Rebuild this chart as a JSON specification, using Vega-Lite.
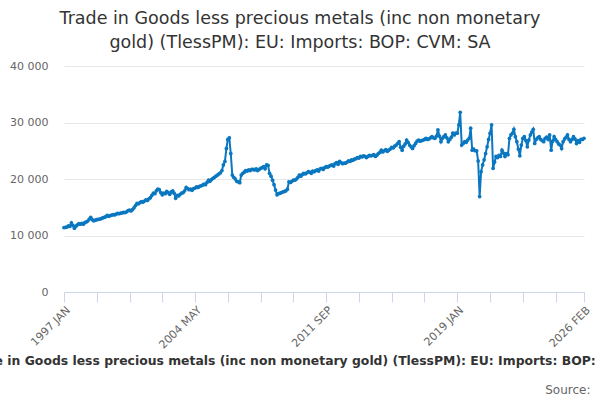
{
  "$schema": "https://vega.github.io/schema/vega-lite/v6.json",
  "autosize": "none",
  "padding": {"left": 64, "top": 66, "right": 16, "bottom": 108},
  "width": 520,
  "height": 226,
  "title": {
    "text": ["Trade in Goods less precious metals (inc non monetary", "gold) (TlessPM): EU: Imports: BOP: CVM: SA"],
    "fontSize": 17.5,
    "fontWeight": "normal",
    "color": "#333333",
    "lineHeight": 24,
    "offset": 9,
    "anchor": "middle",
    "dx": -24
  },
  "data": {
    "values": [
      {"d":"1997-01","v":11400},{"d":"1997-02","v":11450},{"d":"1997-03","v":11500},{"d":"1997-04","v":11700},{"d":"1997-05","v":11600},{"d":"1997-06","v":12250},{"d":"1997-07","v":11800},{"d":"1997-08","v":11300},{"d":"1997-09","v":11650},{"d":"1997-10","v":11900},{"d":"1997-11","v":12100},{"d":"1997-12","v":12000},
      {"d":"1998-01","v":12150},{"d":"1998-02","v":12000},{"d":"1998-03","v":12300},{"d":"1998-04","v":12400},{"d":"1998-05","v":12550},{"d":"1998-06","v":12900},{"d":"1998-07","v":13200},{"d":"1998-08","v":12800},{"d":"1998-09","v":12600},{"d":"1998-10","v":12700},{"d":"1998-11","v":12800},{"d":"1998-12","v":12850},
      {"d":"1999-01","v":12900},{"d":"1999-02","v":13000},{"d":"1999-03","v":13100},{"d":"1999-04","v":13200},{"d":"1999-05","v":13300},{"d":"1999-06","v":13550},{"d":"1999-07","v":13400},{"d":"1999-08","v":13500},{"d":"1999-09","v":13600},{"d":"1999-10","v":13700},{"d":"1999-11","v":13650},{"d":"1999-12","v":13800},
      {"d":"2000-01","v":13900},{"d":"2000-02","v":13850},{"d":"2000-03","v":13950},{"d":"2000-04","v":14000},{"d":"2000-05","v":14100},{"d":"2000-06","v":14050},{"d":"2000-07","v":14200},{"d":"2000-08","v":14400},{"d":"2000-09","v":14500},{"d":"2000-10","v":14350},{"d":"2000-11","v":14600},{"d":"2000-12","v":14900},
      {"d":"2001-01","v":15300},{"d":"2001-02","v":15700},{"d":"2001-03","v":15600},{"d":"2001-04","v":15800},{"d":"2001-05","v":16000},{"d":"2001-06","v":15900},{"d":"2001-07","v":16100},{"d":"2001-08","v":16300},{"d":"2001-09","v":16200},{"d":"2001-10","v":16500},{"d":"2001-11","v":16700},{"d":"2001-12","v":17100},
      {"d":"2002-01","v":17500},{"d":"2002-02","v":17400},{"d":"2002-03","v":17900},{"d":"2002-04","v":18200},{"d":"2002-05","v":18100},{"d":"2002-06","v":17600},{"d":"2002-07","v":17200},{"d":"2002-08","v":17500},{"d":"2002-09","v":17400},{"d":"2002-10","v":17800},{"d":"2002-11","v":17600},{"d":"2002-12","v":17300},
      {"d":"2003-01","v":17700},{"d":"2003-02","v":17900},{"d":"2003-03","v":17500},{"d":"2003-04","v":16600},{"d":"2003-05","v":17100},{"d":"2003-06","v":17000},{"d":"2003-07","v":17300},{"d":"2003-08","v":17500},{"d":"2003-09","v":17600},{"d":"2003-10","v":17900},{"d":"2003-11","v":18500},{"d":"2003-12","v":18300},
      {"d":"2004-01","v":18100},{"d":"2004-02","v":18200},{"d":"2004-03","v":18000},{"d":"2004-04","v":18300},{"d":"2004-05","v":18400},{"d":"2004-06","v":18600},{"d":"2004-07","v":18500},{"d":"2004-08","v":18700},{"d":"2004-09","v":18800},{"d":"2004-10","v":18900},{"d":"2004-11","v":19100},{"d":"2004-12","v":19000},
      {"d":"2005-01","v":19400},{"d":"2005-02","v":19800},{"d":"2005-03","v":19600},{"d":"2005-04","v":19900},{"d":"2005-05","v":20100},{"d":"2005-06","v":20300},{"d":"2005-07","v":20500},{"d":"2005-08","v":20700},{"d":"2005-09","v":20900},{"d":"2005-10","v":21100},{"d":"2005-11","v":21500},{"d":"2005-12","v":22500},
      {"d":"2006-01","v":23100},{"d":"2006-02","v":25400},{"d":"2006-03","v":27000},{"d":"2006-04","v":27300},{"d":"2006-05","v":24500},{"d":"2006-06","v":20700},{"d":"2006-07","v":20300},{"d":"2006-08","v":20000},{"d":"2006-09","v":19600},{"d":"2006-10","v":19500},{"d":"2006-11","v":19350},{"d":"2006-12","v":20700},
      {"d":"2007-01","v":21000},{"d":"2007-02","v":21200},{"d":"2007-03","v":21500},{"d":"2007-04","v":21400},{"d":"2007-05","v":21600},{"d":"2007-06","v":21500},{"d":"2007-07","v":21700},{"d":"2007-08","v":21700},{"d":"2007-09","v":21600},{"d":"2007-10","v":21800},{"d":"2007-11","v":21500},{"d":"2007-12","v":21700},
      {"d":"2008-01","v":21900},{"d":"2008-02","v":22000},{"d":"2008-03","v":22200},{"d":"2008-04","v":21800},{"d":"2008-05","v":22500},{"d":"2008-06","v":22400},{"d":"2008-07","v":21000},{"d":"2008-08","v":20500},{"d":"2008-09","v":19800},{"d":"2008-10","v":19000},{"d":"2008-11","v":18050},{"d":"2008-12","v":17200},
      {"d":"2009-01","v":17400},{"d":"2009-02","v":17500},{"d":"2009-03","v":17600},{"d":"2009-04","v":17700},{"d":"2009-05","v":17800},{"d":"2009-06","v":17900},{"d":"2009-07","v":18200},{"d":"2009-08","v":19500},{"d":"2009-09","v":19400},{"d":"2009-10","v":19600},{"d":"2009-11","v":19800},{"d":"2009-12","v":19800},
      {"d":"2010-01","v":20000},{"d":"2010-02","v":20300},{"d":"2010-03","v":20700},{"d":"2010-04","v":20500},{"d":"2010-05","v":20800},{"d":"2010-06","v":21000},{"d":"2010-07","v":20900},{"d":"2010-08","v":21100},{"d":"2010-09","v":21300},{"d":"2010-10","v":21200},{"d":"2010-11","v":21000},{"d":"2010-12","v":21400},
      {"d":"2011-01","v":21300},{"d":"2011-02","v":21500},{"d":"2011-03","v":21600},{"d":"2011-04","v":21400},{"d":"2011-05","v":21800},{"d":"2011-06","v":21900},{"d":"2011-07","v":21700},{"d":"2011-08","v":22000},{"d":"2011-09","v":22200},{"d":"2011-10","v":22100},{"d":"2011-11","v":22300},{"d":"2011-12","v":22400},
      {"d":"2012-01","v":22500},{"d":"2012-02","v":22300},{"d":"2012-03","v":22700},{"d":"2012-04","v":22900},{"d":"2012-05","v":22600},{"d":"2012-06","v":23100},{"d":"2012-07","v":22900},{"d":"2012-08","v":22700},{"d":"2012-09","v":22800},{"d":"2012-10","v":22800},{"d":"2012-11","v":23000},{"d":"2012-12","v":23200},
      {"d":"2013-01","v":23100},{"d":"2013-02","v":23400},{"d":"2013-03","v":23300},{"d":"2013-04","v":23500},{"d":"2013-05","v":23600},{"d":"2013-06","v":23800},{"d":"2013-07","v":23700},{"d":"2013-08","v":24000},{"d":"2013-09","v":23900},{"d":"2013-10","v":24100},{"d":"2013-11","v":24000},{"d":"2013-12","v":23800},
      {"d":"2014-01","v":24000},{"d":"2014-02","v":24200},{"d":"2014-03","v":24100},{"d":"2014-04","v":24200},{"d":"2014-05","v":24300},{"d":"2014-06","v":24000},{"d":"2014-07","v":24200},{"d":"2014-08","v":24500},{"d":"2014-09","v":24700},{"d":"2014-10","v":25100},{"d":"2014-11","v":24800},{"d":"2014-12","v":25000},
      {"d":"2015-01","v":25200},{"d":"2015-02","v":24900},{"d":"2015-03","v":25100},{"d":"2015-04","v":25300},{"d":"2015-05","v":25600},{"d":"2015-06","v":25500},{"d":"2015-07","v":25800},{"d":"2015-08","v":26000},{"d":"2015-09","v":26300},{"d":"2015-10","v":26600},{"d":"2015-11","v":25600},{"d":"2015-12","v":25100},
      {"d":"2016-01","v":25800},{"d":"2016-02","v":26200},{"d":"2016-03","v":26900},{"d":"2016-04","v":26500},{"d":"2016-05","v":26000},{"d":"2016-06","v":25700},{"d":"2016-07","v":25400},{"d":"2016-08","v":25900},{"d":"2016-09","v":26300},{"d":"2016-10","v":26700},{"d":"2016-11","v":26900},{"d":"2016-12","v":26700},
      {"d":"2017-01","v":26800},{"d":"2017-02","v":26900},{"d":"2017-03","v":27000},{"d":"2017-04","v":27200},{"d":"2017-05","v":27000},{"d":"2017-06","v":27100},{"d":"2017-07","v":27300},{"d":"2017-08","v":27500},{"d":"2017-09","v":27300},{"d":"2017-10","v":27200},{"d":"2017-11","v":27600},{"d":"2017-12","v":28700},
      {"d":"2018-01","v":27600},{"d":"2018-02","v":26600},{"d":"2018-03","v":27200},{"d":"2018-04","v":27500},{"d":"2018-05","v":27800},{"d":"2018-06","v":27300},{"d":"2018-07","v":26600},{"d":"2018-08","v":27000},{"d":"2018-09","v":27400},{"d":"2018-10","v":28100},{"d":"2018-11","v":27800},{"d":"2018-12","v":28100},
      {"d":"2019-01","v":28100},{"d":"2019-02","v":29600},{"d":"2019-03","v":31800},{"d":"2019-04","v":26000},{"d":"2019-05","v":26300},{"d":"2019-06","v":26600},{"d":"2019-07","v":26500},{"d":"2019-08","v":26900},{"d":"2019-09","v":27200},{"d":"2019-10","v":29000},{"d":"2019-11","v":25100},{"d":"2019-12","v":25300},
      {"d":"2020-01","v":25000},{"d":"2020-02","v":25000},{"d":"2020-03","v":23200},{"d":"2020-04","v":16900},{"d":"2020-05","v":21300},{"d":"2020-06","v":22500},{"d":"2020-07","v":23400},{"d":"2020-08","v":24500},{"d":"2020-09","v":25700},{"d":"2020-10","v":27000},{"d":"2020-11","v":28100},{"d":"2020-12","v":29600},
      {"d":"2021-01","v":21900},{"d":"2021-02","v":23000},{"d":"2021-03","v":24000},{"d":"2021-04","v":23800},{"d":"2021-05","v":24200},{"d":"2021-06","v":24000},{"d":"2021-07","v":25100},{"d":"2021-08","v":24600},{"d":"2021-09","v":24000},{"d":"2021-10","v":24500},{"d":"2021-11","v":24300},{"d":"2021-12","v":27200},
      {"d":"2022-01","v":27800},{"d":"2022-02","v":28100},{"d":"2022-03","v":28800},{"d":"2022-04","v":27500},{"d":"2022-05","v":26600},{"d":"2022-06","v":25300},{"d":"2022-07","v":24100},{"d":"2022-08","v":26000},{"d":"2022-09","v":27200},{"d":"2022-10","v":27500},{"d":"2022-11","v":26800},{"d":"2022-12","v":25700},
      {"d":"2023-01","v":26900},{"d":"2023-02","v":27800},{"d":"2023-03","v":28300},{"d":"2023-04","v":28800},{"d":"2023-05","v":26300},{"d":"2023-06","v":27000},{"d":"2023-07","v":27300},{"d":"2023-08","v":27500},{"d":"2023-09","v":27000},{"d":"2023-10","v":26800},{"d":"2023-11","v":26600},{"d":"2023-12","v":27200},
      {"d":"2024-01","v":27400},{"d":"2024-02","v":27000},{"d":"2024-03","v":27800},{"d":"2024-04","v":25100},{"d":"2024-05","v":26700},{"d":"2024-06","v":27500},{"d":"2024-07","v":27000},{"d":"2024-08","v":26600},{"d":"2024-09","v":26200},{"d":"2024-10","v":26000},{"d":"2024-11","v":25400},{"d":"2024-12","v":26600},
      {"d":"2025-01","v":27100},{"d":"2025-02","v":27400},{"d":"2025-03","v":27800},{"d":"2025-04","v":27000},{"d":"2025-05","v":26600},{"d":"2025-06","v":27000},{"d":"2025-07","v":27500},{"d":"2025-08","v":27100},{"d":"2025-09","v":26300},{"d":"2025-10","v":26800},{"d":"2025-11","v":26500},{"d":"2025-12","v":27000},
      {"d":"2026-01","v":27000},{"d":"2026-02","v":27200}
    ]
  },
  "mark": {
    "type": "line",
    "color": "#0a77c0",
    "strokeWidth": 2,
    "point": {"filled": true, "size": 14, "color": "#0a77c0"}
  },
  "encoding": {
    "x": {
      "field": "d",
      "type": "temporal",
      "scale": {"type": "utc"},
      "axis": {
        "values": [
          {"year": 1997, "month": 1, "utc": true},
          {"year": 1998, "month": 11, "utc": true},
          {"year": 2000, "month": 9, "utc": true},
          {"year": 2002, "month": 7, "utc": true},
          {"year": 2004, "month": 5, "utc": true},
          {"year": 2006, "month": 3, "utc": true},
          {"year": 2008, "month": 1, "utc": true},
          {"year": 2009, "month": 11, "utc": true},
          {"year": 2011, "month": 9, "utc": true},
          {"year": 2013, "month": 7, "utc": true},
          {"year": 2015, "month": 5, "utc": true},
          {"year": 2017, "month": 3, "utc": true},
          {"year": 2019, "month": 1, "utc": true},
          {"year": 2020, "month": 11, "utc": true},
          {"year": 2022, "month": 9, "utc": true},
          {"year": 2024, "month": 7, "utc": true},
          {"year": 2026, "month": 2, "utc": true}
        ],
        "labelExpr": "indexof(['1997 JAN','2004 MAY','2011 SEP','2019 JAN','2026 FEB'], upper(utcFormat(datum.value, '%Y %b'))) >= 0 ? upper(utcFormat(datum.value, '%Y %b')) : ''",
        "labelAngle": -45,
        "labelOverlap": false,
        "labelFlush": false,
        "labelFontSize": 11,
        "labelColor": "#666666",
        "labelPadding": 2,
        "grid": false,
        "domainColor": "#ccd6eb",
        "tickColor": "#ccd6eb",
        "tickSize": 10,
        "title": "Trade in Goods less precious metals (inc non monetary gold) (TlessPM): EU: Imports: BOP: CVM: SA",
        "titleFontSize": 12.4,
        "titleFontWeight": "bold",
        "titleColor": "#333333",
        "titleAlign": "center",
        "titleBaseline": "middle",
        "titleX": 247,
        "titleY": 68
      }
    },
    "y": {
      "field": "v",
      "type": "quantitative",
      "scale": {"domain": [0, 40000], "nice": false},
      "axis": {
        "values": [0, 10000, 20000, 30000, 40000],
        "labelExpr": "replace(format(datum.value, ','), ',', ' ')",
        "labelFontSize": 11,
        "labelColor": "#666666",
        "labelPadding": 16,
        "ticks": false,
        "domain": false,
        "gridColor": "#e6e6e6",
        "title": "Source:",
        "titleFontSize": 12,
        "titleFontWeight": "normal",
        "titleColor": "#666666",
        "titleAngle": 0,
        "titleAlign": "right",
        "titleBaseline": "middle",
        "titleX": 526,
        "titleY": 323
      }
    }
  },
  "config": {
    "font": "DejaVu Sans",
    "view": {"stroke": null}
  }
}
